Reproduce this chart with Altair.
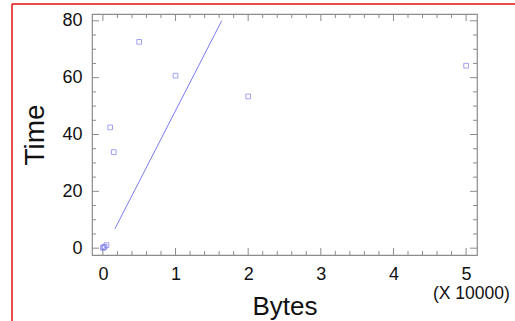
import altair as alt
import pandas as pd

# Data
bytes_vals = [10, 100, 250, 500, 1000, 1500, 5000, 10000, 20000, 50000]
time_vals = [0.1, 0.3, 0.5, 1.1, 42.5, 33.8, 72.6, 60.7, 53.4, 64.2]

fit_bytes = [1650, 16350]
fit_time = [6.8, 80.0]

x_major = [0, 10000, 20000, 30000, 40000, 50000]
x_minor = [v for v in range(0, 52000, 2000) if v % 10000 != 0]
y_major = [0, 20, 40, 60, 80]
y_minor = [v for v in range(0, 81, 5) if v % 20 != 0]

W, H = 385, 241
FONT = "Liberation Sans"
PT = "#7b7bf0"
FRAME = "#8c8c8c"

pts = pd.DataFrame({"Bytes": bytes_vals, "Time": time_vals})
fit = pd.DataFrame({"Bytes": fit_bytes, "Time": fit_time})

xs = alt.Scale(domain=[-1500, 51500], nice=False, zero=False)
ys = alt.Scale(domain=[-2.4, 82.4], nice=False, zero=False)

x_axis = alt.Axis(
    values=x_major, labelExpr="datum.value / 10000", ticks=False, domain=False, grid=False,
    labelFontSize=18, labelFont=FONT, labelColor="#111", labelPadding=10,
    title="Bytes", titleFontSize=26, titleFont=FONT, titleFontWeight="normal", titleColor="#111",
    titlePadding=10)
y_axis = alt.Axis(
    values=y_major, ticks=False, domain=False, grid=False,
    labelFontSize=18, labelFont=FONT, labelColor="#111", labelPadding=10,
    title="Time", titleFontSize=28, titleFont=FONT, titleFontWeight="normal", titleColor="#111",
    titlePadding=12)

points = alt.Chart(pts).mark_point(shape="square", filled=False, color=PT, size=22, strokeWidth=1).encode(
    x=alt.X("Bytes:Q", scale=xs, axis=x_axis),
    y=alt.Y("Time:Q", scale=ys, axis=y_axis),
)

line = alt.Chart(fit).mark_line(color=PT, strokeWidth=1).encode(
    x=alt.X("Bytes:Q", scale=xs, axis=x_axis), y=alt.Y("Time:Q", scale=ys, axis=y_axis))

def xticks(vals, length):
    df = pd.DataFrame({"t": vals})
    b = alt.Chart(df).mark_rule(color=FRAME, strokeWidth=1).encode(
        x=alt.X("t:Q", scale=xs, axis=x_axis), y=alt.value(H), y2=alt.value(H - length))
    t = alt.Chart(df).mark_rule(color=FRAME, strokeWidth=1).encode(
        x=alt.X("t:Q", scale=xs, axis=x_axis), y=alt.value(0), y2=alt.value(length))
    return [b, t]

def yticks(vals, length):
    df = pd.DataFrame({"t": vals})
    l = alt.Chart(df).mark_rule(color=FRAME, strokeWidth=1).encode(
        y=alt.Y("t:Q", scale=ys, axis=y_axis), x=alt.value(0), x2=alt.value(length))
    r = alt.Chart(df).mark_rule(color=FRAME, strokeWidth=1).encode(
        y=alt.Y("t:Q", scale=ys, axis=y_axis), x=alt.value(W), x2=alt.value(W - length))
    return [l, r]

ticks = xticks(x_major, 7) + xticks(x_minor, 4) + yticks(y_major, 7) + yticks(y_minor, 4)

mult = alt.Chart(pd.DataFrame({"t": ["(X 10000)"]})).mark_text(
    align="left", baseline="alphabetic", fontSize=17.5, font=FONT, color="#111").encode(
    text="t:N", x=alt.value(341), y=alt.value(285))

border_top = alt.Chart(pd.DataFrame({"a": [0]})).mark_rule(color="#e01010", strokeWidth=1.5).encode(
    x=alt.value(-80), x2=alt.value(440), y=alt.value(-10))
border_left = alt.Chart(pd.DataFrame({"a": [0]})).mark_rule(color="#e01010", strokeWidth=1.5).encode(
    x=alt.value(-80), y=alt.value(-10), y2=alt.value(320))

chart = alt.layer(border_top, border_left, *ticks, line, points, mult).properties(
    width=W, height=H,
    autosize=alt.AutoSizeParams(type="none"),
    padding={"left": 92, "top": 14, "right": 38, "bottom": 66},
    background="white",
).configure_view(stroke=FRAME, strokeWidth=1.2)

chart.save("out.html", embed_options={"renderer": "svg", "actions": False})
